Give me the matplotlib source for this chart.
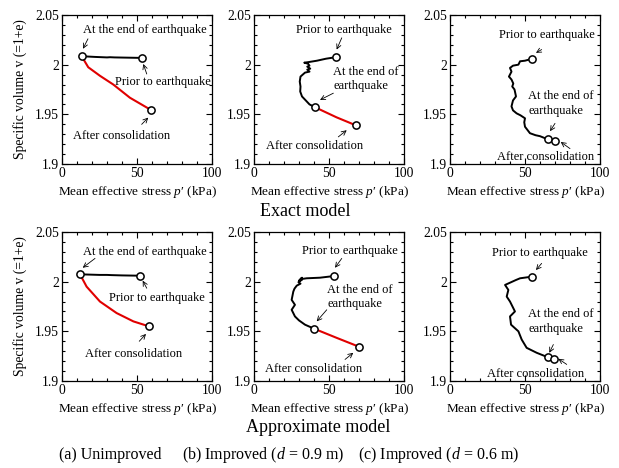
import matplotlib
matplotlib.use("Agg")
import matplotlib.pyplot as plt
from matplotlib.ticker import MultipleLocator

plt.rcParams['font.family'] = ['Liberation Serif', 'DejaVu Serif']
plt.rcParams['mathtext.fontset'] = 'custom'
plt.rcParams['mathtext.rm'] = 'Liberation Serif'
plt.rcParams['mathtext.it'] = 'Liberation Serif:italic'

# ---------------- data (p' in kPa, specific volume v) ----------------
# Exact model
ex_a_eq_p = [53.5, 42, 35, 32, 30, 22, 13.1]
ex_a_eq_v = [2.0068, 2.0071, 2.0073, 2.0075, 2.0073, 2.0078, 2.0085]
ex_a_con_p = [13.1, 17.5, 25.3, 34.2, 45.3, 59.3]
ex_a_con_v = [2.0085, 1.9974, 1.9888, 1.980, 1.9667, 1.9544]

ex_b_eq_p = [54.4, 48, 42, 36, 33.5, 36, 37, 35.5, 37.5, 35.5, 37, 34, 31, 30.5, 31, 30.8, 32, 34.5, 37, 40.9]
ex_b_eq_v = [2.0075, 2.006, 2.004, 2.0025, 2.002, 2.001, 1.999, 1.998, 1.996, 1.995, 1.993, 1.992, 1.988,
             1.983, 1.978, 1.973, 1.968, 1.964, 1.960, 1.957]
ex_b_con_p = [40.9, 55, 67.8]
ex_b_con_v = [1.957, 1.947, 1.939]

ex_c_eq_p = [54.4, 50, 46.7, 45.6, 42, 40, 41, 39.3, 41, 42.2, 41.5, 43, 44, 42, 41, 42, 44.4, 47, 50,
             49.5, 50, 53.3, 57, 60, 65.1]
ex_c_eq_v = [2.0058, 2.004, 2.0034, 2.0, 1.999, 1.9967, 1.993, 1.988, 1.985, 1.981, 1.978, 1.975, 1.968,
             1.964, 1.958, 1.954, 1.951, 1.949, 1.946, 1.942, 1.9375, 1.931, 1.929, 1.928, 1.9249]
ex_c_con_p = [65.1, 70.0]
ex_c_con_v = [1.9249, 1.9235]

# Approximate model
ap_a_eq_p = [52, 40, 33, 30, 25, 12]
ap_a_eq_v = [2.006, 2.0063, 2.0066, 2.0068, 2.0068, 2.0074]
ap_a_con_p = [12, 16.4, 25.3, 36.4, 47.6, 58]
ap_a_con_v = [2.0074, 1.995, 1.980, 1.9684, 1.960, 1.955]

ap_b_eq_p = [53.5, 44, 35.1, 31, 32, 30, 32, 29.6, 31, 28.5, 27, 26.2, 25.1, 27.3, 25.1, 27.3, 30, 34, 40]
ap_b_eq_v = [2.0057, 2.004, 2.0034, 2.0025, 2.004, 2.001, 2.002, 1.9995, 1.998, 1.996, 1.993, 1.990,
             1.9817, 1.9767, 1.9717, 1.965, 1.961, 1.9567, 1.9527]
ap_b_con_p = [40, 55, 70.2]
ap_b_con_v = [1.9527, 1.9435, 1.9344]

ap_c_eq_p = [54.4, 46.7, 44, 36.7, 38.9, 37.8, 40, 43.3, 40, 40.7, 45.6, 47.8, 51.1, 57.8, 65.1]
ap_c_eq_v = [2.005, 2.0034, 2.0017, 1.9967, 1.9917, 1.985, 1.980, 1.970, 1.965, 1.9567, 1.950, 1.9417,
             1.9334, 1.9284, 1.924]
ap_c_con_p = [65.1, 69.3]
ap_c_con_v = [1.924, 1.9217]

xticks = [0, 50, 100]
yticks = [1.9, 1.95, 2.0, 2.05]
xticklabels = ['0', '50', '100']
yticklabels = ['1.9', '1.95', '2', '2.05']

lbl_prior = "Prior to earthquake"
lbl_end1 = "At the end of earthquake"
lbl_end2 = "At the end of\nearthquake"
lbl_after = "After consolidation"

# annotations: (text, text xy, ha, arrow tail, arrow tip)
ann_ex_a = [(lbl_end1, (55, 2.035), 'center', (17.3, 2.026), (14, 2.016)),
            (lbl_prior, (67.5, 1.9825), 'center', (56.5, 1.9906), (54.2, 2.0007)),
            (lbl_after, (39.8, 1.928), 'center', (53.1, 1.9399), (57.5, 1.9467))]
ann_ex_b = [(lbl_prior, (60, 2.0345), 'center', (58.5, 2.027), (55.1, 2.0152)),
            (lbl_end2, (52.9, 1.9853), 'left', (52.9, 1.9713), (44, 1.9645)),
            (lbl_after, (40.7, 1.918), 'center', (56.2, 1.9273), (61.8, 1.934))]
ann_ex_c = [(lbl_prior, (64.4, 2.0294), 'center', (61.1, 2.0152), (57.3, 2.0119)),
            (lbl_end2, (52.2, 1.9608), 'left', (70, 1.9409), (66.7, 1.933)),
            (lbl_after, (64, 1.907), 'center', (80, 1.9155), (73.8, 1.9222))]
ann_ap_a = [(lbl_end1, (55.3, 2.030), 'center', (22, 2.0234), (13.8, 2.014)),
            (lbl_prior, (63.1, 1.984), 'center', (56.5, 1.9934), (53.8, 2.001)),
            (lbl_after, (47.5, 1.9267), 'center', (51.5, 1.940), (56, 1.9474))]
ann_ap_b = [(lbl_prior, (63.6, 2.0307), 'center', (58.5, 2.0234), (54, 2.014)),
            (lbl_end2, (48.9, 1.9842), 'left', (48.5, 1.9717), (41.8, 1.960)),
            (lbl_after, (39.6, 1.9117), 'center', (60.7, 1.9217), (66.2, 1.9284))]
ann_ap_c = [(lbl_prior, (60, 2.029), 'center', (61.1, 2.0184), (57.3, 2.0117)),
            (lbl_end2, (52.2, 1.960), 'left', (68.9, 1.9367), (66.2, 1.9284)),
            (lbl_after, (57.3, 1.9067), 'center', (77.8, 1.9167), (72.2, 1.9224))]

panels = [
    (ex_a_eq_p, ex_a_eq_v, ex_a_con_p, ex_a_con_v, ann_ex_a),
    (ex_b_eq_p, ex_b_eq_v, ex_b_con_p, ex_b_con_v, ann_ex_b),
    (ex_c_eq_p, ex_c_eq_v, ex_c_con_p, ex_c_con_v, ann_ex_c),
    (ap_a_eq_p, ap_a_eq_v, ap_a_con_p, ap_a_con_v, ann_ap_a),
    (ap_b_eq_p, ap_b_eq_v, ap_b_con_p, ap_b_con_v, ann_ap_b),
    (ap_c_eq_p, ap_c_eq_v, ap_c_con_p, ap_c_con_v, ann_ap_c),
]

row_titles = ["Exact model", "Approximate model"]
captions = ["(a) Unimproved", "(b) Improved ($d$ = 0.9 m)", "(c) Improved ($d$ = 0.6 m)"]

W, H = 619, 468
fig = plt.figure(figsize=(W / 100, H / 100), dpi=100)

lefts = [62, 254, 450]
tops = [15, 232]
aw, ah = 150, 149

for i, (eqp, eqv, cp, cv, anns) in enumerate(panels):
    r, c = divmod(i, 3)
    ax = fig.add_axes([lefts[c] / W, 1 - (tops[r] + ah) / H, aw / W, ah / H])
    ax.plot(eqp, eqv, color='black', lw=1.4, zorder=2)
    ax.plot(cp, cv, color='#e00000', lw=1.5, zorder=2)
    ax.plot([eqp[0], eqp[-1], cp[-1]], [eqv[0], eqv[-1], cv[-1]], ls='none', marker='o',
            ms=5.2, mfc='white', mec='black', mew=1.1, zorder=3)
    for txt, (tx, ty), ha, tail, tip in anns:
        ax.text(tx, ty, txt, ha=ha, va='center', fontsize=9, linespacing=1.25,
                multialignment='left')
        ax.annotate('', xy=tip, xytext=tail,
                    arrowprops=dict(arrowstyle='->', lw=0.6, color='black',
                                    shrinkA=0, shrinkB=0, mutation_scale=8))
    ax.set_xlim(0, 100)
    ax.set_ylim(1.9, 2.05)
    ax.set_xticks(xticks)
    ax.set_xticklabels(xticklabels)
    ax.set_yticks(yticks)
    ax.set_yticklabels(yticklabels)
    ax.xaxis.set_minor_locator(MultipleLocator(10))
    ax.yaxis.set_minor_locator(MultipleLocator(0.01))
    ax.tick_params(which='both', direction='in', top=True, right=True, labelsize=9.8,
                   width=0.8, pad=2)
    ax.tick_params(which='major', length=4)
    ax.tick_params(which='minor', length=2)
    for s in ax.spines.values():
        s.set_linewidth(0.9)
    ax.set_xlabel("Mean effective stress $p$′ (kPa)", fontsize=9.5, labelpad=3)
    if c == 0:
        ax.set_ylabel("Specific volume v (=1+e)", fontsize=9.8, labelpad=6)

fig.text(305 / W, 1 - 212 / H, row_titles[0], ha='center', va='center', fontsize=13)
fig.text(318 / W, 1 - 428 / H, row_titles[1], ha='center', va='center', fontsize=13)
for x, cap in zip([110, 263, 439], captions):
    fig.text(x / W, 1 - 455 / H, cap, ha='center', va='center', fontsize=11.5)

fig.savefig("out.png", dpi=100)
